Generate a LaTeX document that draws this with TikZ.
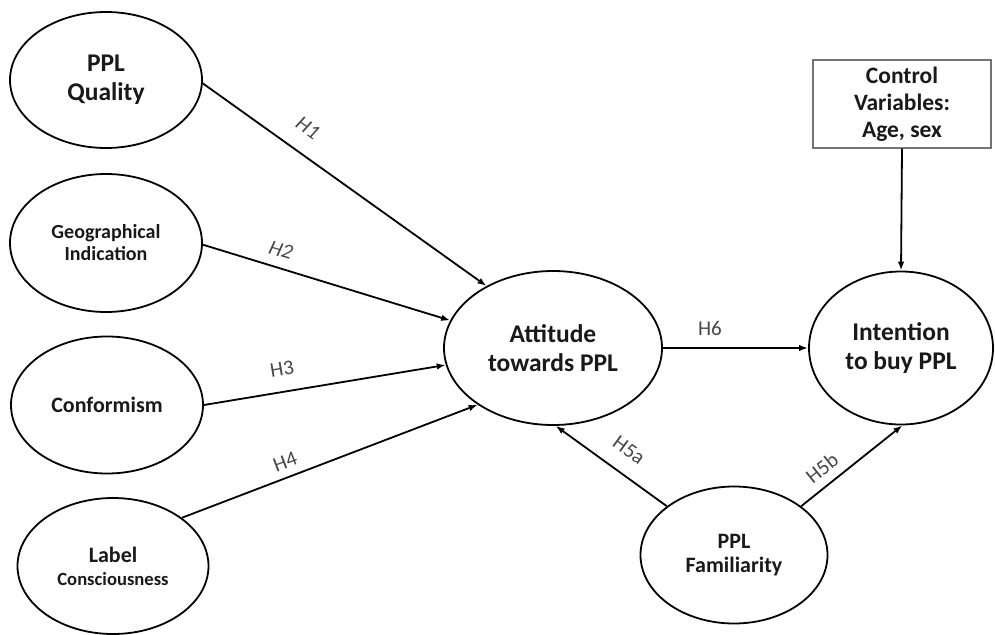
\documentclass[tikz,border=0pt]{standalone}
\usepackage{fontspec}
\setmainfont{Carlito}
\usetikzlibrary{arrows.meta,shapes.geometric}
\tikzset{
  construct/.style={ellipse, draw=black, line width=1.8pt, inner sep=0pt, align=center, text=black!90},
  ctrlbox/.style={rectangle, draw=black!55, line width=1.3pt, inner sep=0pt, align=center, minimum width=178pt, minimum height=88pt, text=black!90},
  path/.style={line width=1.8pt, draw=black, -{Latex[length=9pt,width=6.5pt]}},
  hyp/.style={text=black!72, font=\fontsize{21}{23}\selectfont, inner sep=0pt}
}
\begin{document}
\begin{tikzpicture}[x=1pt,y=-1pt]
\useasboundingbox (0,0) rectangle (995,634);

\node[construct, minimum width=192pt, minimum height=136pt, font=\bfseries\fontsize{25.5}{29}\selectfont] (q) at (106,80) {PPL\\Quality};
\node[construct, minimum width=192pt, minimum height=138pt, font=\bfseries\fontsize{20}{22}\selectfont] (geo) at (106,243) {Geographical\\Indication};
\node[construct, minimum width=192pt, minimum height=137pt, font=\bfseries\fontsize{22}{24}\selectfont] (conf) at (107,405) {Conformism};
\node[construct, minimum width=191pt, minimum height=136pt, font=\bfseries\fontsize{18.6}{23}\selectfont] (lab) at (113,566) {{\fontsize{22}{23}\selectfont Label}\\{\fontsize{18.6}{23}\selectfont Consciousness}};
\node[construct, minimum width=218pt, minimum height=154pt, font=\bfseries\fontsize{25.5}{29}\selectfont] (att) at (553,348) {Attitude\\towards PPL};
\node[construct, minimum width=184pt, minimum height=153pt, font=\bfseries\fontsize{25.5}{29}\selectfont] (int) at (901,348) {Intention\\to buy PPL};
\node[construct, minimum width=187pt, minimum height=137pt, font=\bfseries\fontsize{22}{24}\selectfont] (fam) at (734,555) {PPL\\Familiarity};
\node[ctrlbox, font=\bfseries\fontsize{23.5}{27}\selectfont] (ctrl) at (902,104) {Control\\Variables:\\Age, sex};

\draw[path] (q.-2) -- (att.137);
\draw[path] (geo.-1) -- (att.165.6);
\draw[path] (conf.east) -- (att.-171);
\draw[path] (lab.35.4) -- (att.-143);
\draw[path] (att) -- (int);
\draw[path] (ctrl.south) -- (int.north);
\draw[path] (fam.144.2) -- (att.-88);
\draw[path] (fam.36.7) -- (int.-89);

\node[hyp, rotate=-35, font=\itshape\fontsize{21}{23}\selectfont] (h1) at (308,128) {H1};
\node[hyp, rotate=-17, font=\itshape\fontsize{21}{23}\selectfont] (h2) at (281,250) {H2};
\node[hyp, rotate=9.5] (h3) at (282,369) {H3};
\node[hyp, rotate=20.6] (h4) at (285,462) {H4};
\node[hyp] (h6) at (710,328) {H6};
\node[hyp, rotate=-36] (h5a) at (629,450) {H5a};
\node[hyp, rotate=38.5] (h5b) at (822,468) {H5b};
\end{tikzpicture}
\end{document}
